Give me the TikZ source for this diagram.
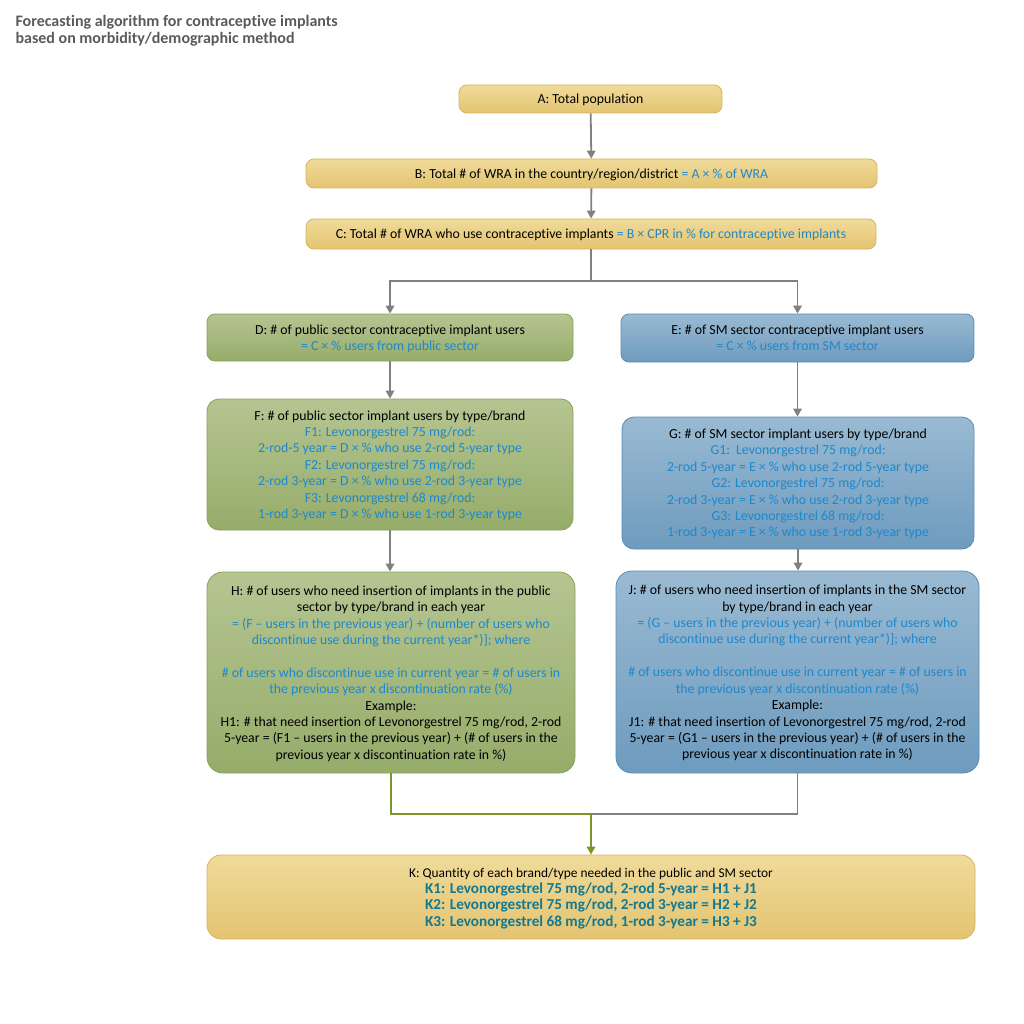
\documentclass[tikz,border=0pt]{standalone}
\usepackage{fontspec}
\setmainfont[Ligatures={NoCommon}]{Carlito}
\usetikzlibrary{arrows.meta}

\definecolor{ylwtop}{RGB}{240,219,155}
\definecolor{ylwbot}{RGB}{227,196,112}
\definecolor{ylwline}{RGB}{214,180,90}
\definecolor{grntop}{RGB}{181,197,146}
\definecolor{grnbot}{RGB}{150,172,106}
\definecolor{grnline}{RGB}{136,162,86}
\definecolor{blutop}{RGB}{154,186,210}
\definecolor{blubot}{RGB}{110,155,190}
\definecolor{bluline}{RGB}{88,140,181}
\definecolor{formula}{RGB}{30,136,204}
\definecolor{ktext}{RGB}{20,120,145}
\definecolor{arrowgray}{RGB}{128,128,128}
\definecolor{linkgreen}{RGB}{122,150,40}
\definecolor{titlegray}{RGB}{90,90,90}

\newcommand{\fm}[1]{\textcolor{formula}{#1}}
\newcommand{\kline}[1]{{\fontsize{15.2}{16.4}\selectfont\bfseries\textcolor{ktext}{#1}}}

\tikzset{
  box/.style={draw, rounded corners=8pt, align=center, inner sep=0pt,
    text depth=0pt, line width=0.8pt, font=\fontsize{13.8}{16.4}\selectfont},
  ybox/.style={box, draw=ylwline, top color=ylwtop, bottom color=ylwbot},
  gbox/.style={box, draw=grnline, top color=grntop, bottom color=grnbot},
  bbox/.style={box, draw=bluline, top color=blutop, bottom color=blubot},
  flow/.style={draw=arrowgray, line width=1.8pt,
    -{Triangle[length=8pt,width=8.5pt]}},
  plain/.style={draw=arrowgray, line width=1.8pt},
  flowgreen/.style={draw=linkgreen, line width=1.8pt,
    -{Triangle[length=8pt,width=8.5pt]}}
}

\begin{document}
\begin{tikzpicture}[x=1pt, y=-1pt]
  \useasboundingbox (0,0) rectangle (1024,1024);

  % title
  \node[anchor=north west, align=left, text=titlegray,
        font=\fontsize{16}{17}\selectfont\bfseries] (title) at (12,12)
    {Forecasting algorithm for contraceptive implants\\
     based on morbidity/demographic method};

  % top chain
  \node[ybox, minimum width=263pt, minimum height=28pt] (A) at (590.5,99)
    {A: Total population};
  \node[ybox, minimum width=571pt, minimum height=29pt] (B) at (591.5,173.5)
    {B: Total \# of WRA in the country/region/district \fm{= A × \% of WRA}};
  \node[ybox, minimum width=570pt, minimum height=30pt] (C) at (591,234)
    {C: Total \# of WRA who use contraceptive implants \fm{= B × CPR in \% for contraceptive implants}};

  % public sector
  \node[gbox, minimum width=366pt, minimum height=47pt] (D) at (390,337.5)
    {D: \# of public sector contraceptive implant users\\
     \fm{= C × \% users from public sector}};
  \node[gbox, rounded corners=12pt, minimum width=366pt, minimum height=131pt] (F) at (390,464.5)
    {F: \# of public sector implant users by type/brand\\
     \fm{F1: Levonorgestrel 75 mg/rod:}\\
     \fm{2-rod-5 year = D × \% who use 2-rod 5-year type}\\
     \fm{F2: Levonorgestrel 75 mg/rod:}\\
     \fm{2-rod 3-year = D × \% who use 2-rod 3-year type}\\
     \fm{F3: Levonorgestrel 68 mg/rod:}\\
     \fm{1-rod 3-year = D × \% who use 1-rod 3-year type}};
  \node[gbox, rounded corners=16pt, minimum width=368pt, minimum height=201pt] (H) at (391,672.5)
    {H: \# of users who need insertion of implants in the public\\
     sector by type/brand in each year\\
     \fm{= (F – users in the previous year) + (number of users who}\\
     \fm{discontinue use during the current year*)]; where}\\[16.4pt]
     \fm{\# of users who discontinue use in current year = \# of users in}\\
     \fm{the previous year x discontinuation rate (\%)}\\
     Example:\\
     H1: \# that need insertion of Levonorgestrel 75 mg/rod, 2-rod\\
     5-year = (F1 – users in the previous year) + (\# of users in the\\
     previous year x discontinuation rate in \%)};

  % SM sector
  \node[bbox, minimum width=353pt, minimum height=48pt] (E) at (797.5,338)
    {E: \# of SM sector contraceptive implant users\\
     \fm{= C × \% users from SM sector}};
  \node[bbox, rounded corners=12pt, minimum width=352pt, minimum height=132pt] (G) at (798,483)
    {G: \# of SM sector implant users by type/brand\\
     \fm{G1:\ \ Levonorgestrel 75 mg/rod:}\\
     \fm{2-rod 5-year = E × \% who use 2-rod 5-year type}\\
     \fm{G2: Levonorgestrel 75 mg/rod:}\\
     \fm{2-rod 3-year = E × \% who use 2-rod 3-year type}\\
     \fm{G3: Levonorgestrel 68 mg/rod:}\\
     \fm{1-rod 3-year = E × \% who use 1-rod 3-year type}};
  \node[bbox, rounded corners=16pt, minimum width=363pt, minimum height=202pt] (J) at (797.5,672)
    {J: \# of users who need insertion of implants in the SM sector\\
     by type/brand in each year\\
     \fm{= (G – users in the previous year) + (number of users who}\\
     \fm{discontinue use during the current year*)]; where}\\[16.4pt]
     \fm{\# of users who discontinue use in current year = \# of users in}\\
     \fm{the previous year x discontinuation rate (\%)}\\
     Example:\\
     J1: \# that need insertion of Levonorgestrel 75 mg/rod, 2-rod\\
     5-year = (G1 – users in the previous year) + (\# of users in the\\
     previous year x discontinuation rate in \%)};

  % total
  \node[ybox, rounded corners=14pt, minimum width=768pt, minimum height=84pt,
        font=\fontsize{13.4}{16.4}\selectfont] (K) at (591,897)
    {K: Quantity of each brand/type needed in the public and SM sector\\
     \kline{K1: Levonorgestrel 75 mg/rod, 2-rod 5-year = H1 + J1}\\
     \kline{K2: Levonorgestrel 75 mg/rod, 2-rod 3-year = H2 + J2}\\
     \kline{K3: Levonorgestrel 68 mg/rod, 1-rod 3-year = H3 + J3}};

  % connectors
  \coordinate (split) at (591,281);
  \coordinate (merge) at (591,814);
  \draw[flow] (A) -- (B);
  \draw[flow] (B) -- (C);
  \draw[plain] (C) -- (split);
  \draw[flow] (split) -| (D);
  \draw[flow] (split) -| (E);
  \draw[flow] (D) -- (F);
  \draw[flow] (E.south) -- (E.south |- G.north);
  \draw[flow] (F.south) -- (F.south |- H.north);
  \draw[flow] (G.south) -- (G.south |- J.north);
  \draw[plain] (J.south) |- (merge);
  \draw[flowgreen] (H.south) |- (merge) -- (K);
\end{tikzpicture}
\end{document}
